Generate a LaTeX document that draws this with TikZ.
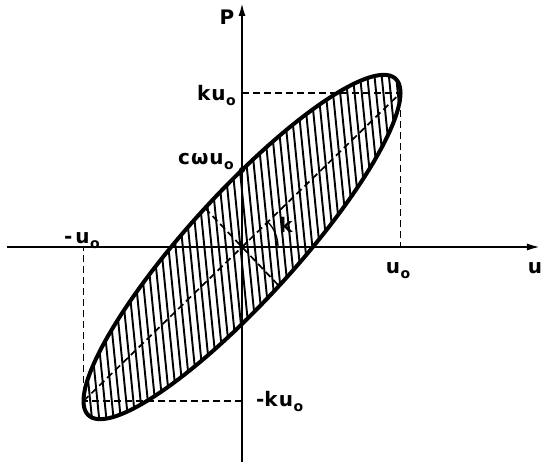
\documentclass[tikz,border=0pt]{standalone}
\usepackage{fontspec}
\setmainfont{DejaVu Sans}
\usetikzlibrary{arrows.meta}
\newcommand\sbo{\kern0.5pt\raisebox{-0.45ex}{\fontsize{14}{14}\selectfont o}}
\begin{document}
\begin{tikzpicture}[x=1pt,y=1pt,
  axis/.style={line width=2.4pt,-{Latex[length=14pt,width=7pt]}},
  dashln/.style={line width=1.7pt,dash pattern=on 7pt off 4pt},
  hatch/.style={line width=1.9pt},
  rim/.style={line width=4pt},
  lbl/.style={font=\fontsize{20}{24}\bfseries\selectfont,inner sep=0pt}]
\useasboundingbox (-242,-219) rectangle (300,247);
\def\ua{158.5}\def\kb{154}\def\cc{77}
% hatching
\begin{scope}
\clip plot[domain=0:360,samples=140,variable=\t] ({\ua*cos(\t)},{\kb*cos(\t)+\cc*sin(\t)}) -- cycle;
\foreach \x in {-232,-224.8,...,232} \draw[hatch] (\x-20,200) -- (\x+20,-200);
\end{scope}
% coordinates
\coordinate (O) at (0,0);
\coordinate (C1) at (\ua,\kb);
\coordinate (C2) at (-\ua,-\kb);
\coordinate (X1) at (\ua,0);
\coordinate (X2) at (-\ua,0);
\coordinate (Y1) at (0,\kb);
\coordinate (Y2) at (0,-\kb);
\coordinate (M1) at ({\ua*cos(103.5)},{\kb*cos(103.5)+\cc*sin(103.5)});
\coordinate (M2) at ({\ua*cos(283.5)},{\kb*cos(283.5)+\cc*sin(283.5)});
\coordinate (L) at (-235,0);
\coordinate (R) at (299,0);
\coordinate (B) at (0,-215);
\coordinate (T) at (0,245);
% dashed lines
\draw[dashln] (C2) -- (C1);
\draw[dashln] (M1) -- (M2);
\draw[dashln] (Y1) -- (C1) -- (X1);
\draw[dashln] (Y2) -- (C2) -- (X2);
% angle arc
\draw[line width=1.3pt] (36,0) arc[start angle=0,end angle=44.2,radius=36];
% ellipse
\draw[rim] plot[domain=0:360,samples=140,variable=\t] ({\ua*cos(\t)},{\kb*cos(\t)+\cc*sin(\t)}) -- cycle;
% axes
\draw[axis] (L) -- (R);
\draw[axis] (B) -- (T);
\fill (0,\cc) circle (3pt);
% labels
\node[lbl,anchor=base] (lP) at (-15,222) {P};
\node[lbl,anchor=base east] (lku) at (-6,146) {k\kern1pt u\sbo};
\node[lbl,anchor=base east] (lcw) at (-8,82) {c\kern1pt ω\kern1pt u\sbo};
\node[lbl,anchor=base] (lmu) at (-160,3) {-\kern3pt u\sbo};
\node[lbl,anchor=base] (lu0) at (156,-27) {u\sbo};
\node[lbl,anchor=base] (lu) at (293,-27) {u};
\node[lbl,anchor=base west] (lmku) at (14,-160) {-k\kern1pt u\sbo};
\node[lbl,anchor=base] (lk) at (44,14) {k};
\end{tikzpicture}
\end{document}
